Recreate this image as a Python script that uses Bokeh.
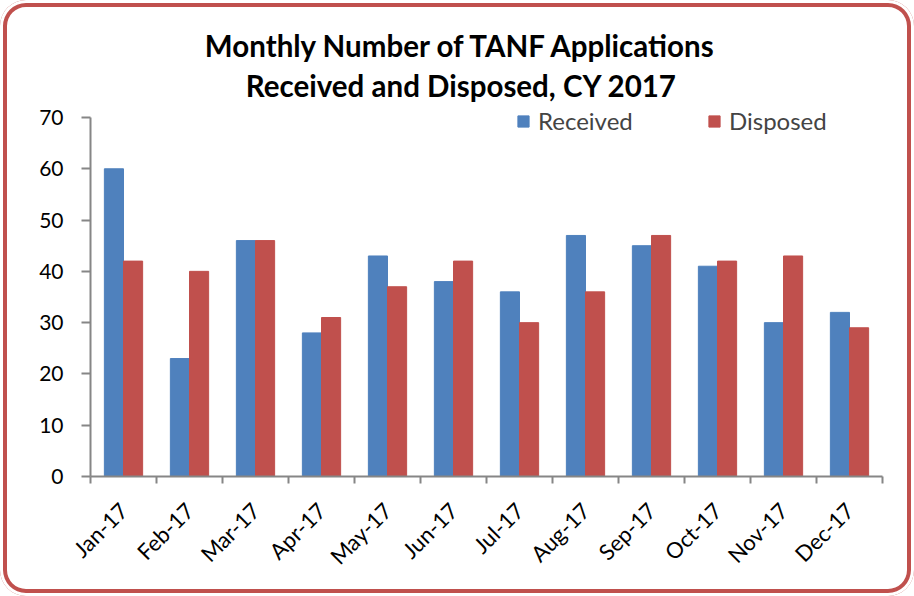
import math
from bokeh.plotting import figure
from bokeh.models import Range1d, FixedTicker, Label, ColumnDataSource
from bokeh.transform import dodge
from bokeh.embed import file_html
from bokeh.resources import INLINE

months = ["Jan-17", "Feb-17", "Mar-17", "Apr-17", "May-17", "Jun-17",
          "Jul-17", "Aug-17", "Sep-17", "Oct-17", "Nov-17", "Dec-17"]
received = [60, 23, 46, 28, 43, 38, 36, 47, 45, 41, 30, 32]
disposed = [42, 40, 46, 31, 37, 42, 30, 36, 47, 42, 43, 29]
y_ticks = [0, 10, 20, 30, 40, 50, 60, 70]
y_max = 70

FONT = "Lato"
BLUE = "#4F81BD"
RED = "#C0504D"
AXIS = "#868686"

W, H = 914, 596
FRAME_L, FRAME_R, FRAME_T, FRAME_B = 90, 882, 8, 476
AXIS_TOP_PX = 117
# extend the range so that title and legend fit inside the frame
y_end = y_max * (FRAME_B - FRAME_T) / (FRAME_B - AXIS_TOP_PX)

centers = [i + 0.5 for i in range(len(months))]
src = ColumnDataSource(dict(x=centers, received=received, disposed=disposed))

p = figure(width=W, height=H, output_backend="svg", toolbar_location=None,
           x_range=Range1d(0, len(months)), y_range=Range1d(0, y_end),
           min_border_left=FRAME_L, min_border_right=W - FRAME_R,
           min_border_top=FRAME_T, min_border_bottom=H - FRAME_B,
           border_fill_color=None, background_fill_color=None,
           styles={"border-radius": "26px",
                   "box-shadow": "inset 0 0 0 3px #ffffff, inset 0 0 0 7px " + RED,
                   "background-color": "#ffffff"})

p.vbar(x=dodge("x", -0.145), top="received", width=0.29, source=src,
       fill_color=BLUE, line_color=BLUE, legend_label="Received")
p.vbar(x=dodge("x", 0.145), top="disposed", width=0.29, source=src,
       fill_color=RED, line_color=RED, legend_label="Disposed")

p.xgrid.visible = False
p.ygrid.visible = False
p.outline_line_color = None

xa = p.xaxis[0]
xa.ticker = FixedTicker(ticks=centers, minor_ticks=list(range(len(months) + 1)))
xa.major_label_overrides = {c: m for c, m in zip(centers, months)}
xa.major_tick_out = 0
xa.major_tick_in = 0
xa.minor_tick_out = 7
xa.minor_tick_in = 0
xa.minor_tick_line_color = AXIS
xa.minor_tick_line_width = 2
xa.axis_line_color = AXIS
xa.axis_line_width = 2
xa.major_label_orientation = math.pi / 4
xa.major_label_text_font = FONT
xa.major_label_text_font_size = "22px"
xa.major_label_text_color = "black"
xa.major_label_standoff = 23

ya = p.yaxis[0]
ya.ticker = FixedTicker(ticks=y_ticks)
ya.bounds = (0, y_max)
ya.major_tick_out = 9
ya.major_tick_in = 0
ya.minor_tick_out = 0
ya.minor_tick_in = 0
ya.major_tick_line_color = AXIS
ya.major_tick_line_width = 2
ya.axis_line_color = AXIS
ya.axis_line_width = 2
ya.major_label_text_font = FONT
ya.major_label_text_font_size = "21px"
ya.major_label_text_color = "black"
ya.major_label_standoff = 18

lg = p.legend[0]
lg.orientation = "horizontal"
lg.location = (426, 341)
lg.padding = 0
lg.margin = 0
lg.spacing = 19
lg.glyph_width = 14
lg.glyph_height = 14
lg.label_standoff = 8
lg.label_width = 150
lg.label_text_font = FONT
lg.label_text_font_size = "24px"
lg.border_line_color = None
lg.background_fill_alpha = 0

for txt, yy in [("Monthly Number of TANF Applications", 431),
                ("Received and Disposed, CY 2017", 391)]:
    p.add_layout(Label(x=371, y=yy, x_units="screen", y_units="screen", text=txt,
                       text_align="center", text_baseline="middle",
                       text_font=FONT, text_font_style="bold",
                       text_font_size="29.5px", text_color="black"))

open("out.html", "w").write(file_html(p, INLINE))
